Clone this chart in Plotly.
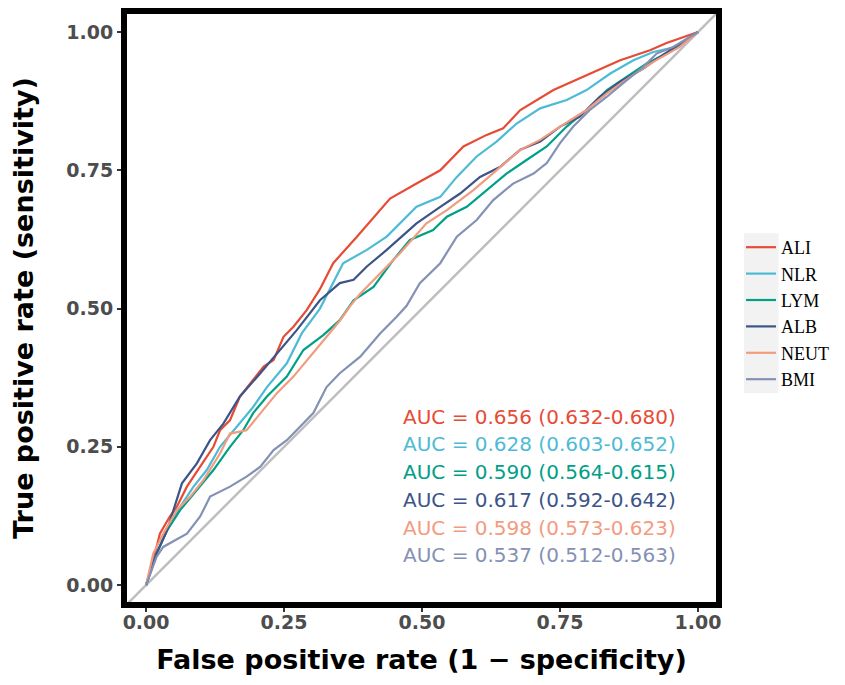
import plotly.graph_objects as go

# ROC curves (false positive rate, true positive rate)
ali_fpr = [0, 0.013, 0.025, 0.043, 0.056, 0.074, 0.098, 0.122, 0.134, 0.152, 0.170, 0.194, 0.213, 0.231, 0.249,
           0.267, 0.291, 0.315, 0.339, 0.382, 0.442, 0.490, 0.533, 0.575, 0.617, 0.647, 0.678, 0.738, 0.798,
           0.859, 0.913, 0.943, 1.0]
ali_tpr = [0, 0.045, 0.093, 0.124, 0.142, 0.178, 0.214, 0.250, 0.280, 0.298, 0.341, 0.371, 0.395, 0.407, 0.449,
           0.467, 0.497, 0.535, 0.582, 0.630, 0.699, 0.726, 0.750, 0.793, 0.814, 0.826, 0.859, 0.895, 0.922,
           0.949, 0.967, 0.980, 1.0]

nlr_fpr = [0, 0.019, 0.038, 0.062, 0.086, 0.110, 0.134, 0.164, 0.194, 0.219, 0.255, 0.282, 0.315, 0.357, 0.400,
           0.436, 0.490, 0.533, 0.563, 0.599, 0.635, 0.672, 0.714, 0.762, 0.798, 0.841, 0.883, 0.919, 0.961, 1.0]
nlr_tpr = [0, 0.057, 0.099, 0.142, 0.178, 0.208, 0.250, 0.286, 0.322, 0.358, 0.401, 0.455, 0.500, 0.582, 0.606,
           0.630, 0.684, 0.702, 0.738, 0.775, 0.802, 0.835, 0.862, 0.877, 0.895, 0.925, 0.949, 0.964, 0.973, 1.0]

lym_fpr = [0, 0.019, 0.038, 0.062, 0.092, 0.122, 0.152, 0.176, 0.194, 0.219, 0.255, 0.285, 0.321, 0.351, 0.376,
           0.412, 0.448, 0.478, 0.520, 0.545, 0.581, 0.617, 0.653, 0.690, 0.726, 0.762, 0.798, 0.835, 0.871,
           0.907, 0.943, 1.0]
lym_tpr = [0, 0.057, 0.099, 0.136, 0.172, 0.208, 0.250, 0.280, 0.311, 0.341, 0.377, 0.425, 0.452, 0.479, 0.515,
           0.539, 0.588, 0.624, 0.642, 0.666, 0.684, 0.714, 0.744, 0.769, 0.793, 0.829, 0.859, 0.895, 0.919,
           0.943, 0.961, 1.0]

alb_fpr = [0, 0.019, 0.038, 0.065, 0.092, 0.116, 0.140, 0.170, 0.207, 0.237, 0.273, 0.315, 0.351, 0.376, 0.400,
           0.436, 0.490, 0.533, 0.569, 0.605, 0.641, 0.678, 0.714, 0.750, 0.786, 0.822, 0.859, 0.901, 0.931, 1.0]
alb_tpr = [0, 0.057, 0.099, 0.184, 0.220, 0.262, 0.292, 0.341, 0.383, 0.419, 0.461, 0.515, 0.546, 0.552, 0.576,
           0.606, 0.654, 0.684, 0.708, 0.738, 0.756, 0.787, 0.802, 0.829, 0.847, 0.883, 0.910, 0.934, 0.955, 1.0]

neut_fpr = [0, 0.013, 0.031, 0.056, 0.080, 0.104, 0.134, 0.152, 0.182, 0.207, 0.237, 0.267, 0.303, 0.327, 0.351,
            0.370, 0.388, 0.424, 0.460, 0.508, 0.545, 0.593, 0.641, 0.678, 0.714, 0.750, 0.798, 0.835, 0.877,
            0.919, 0.967, 1.0]
neut_tpr = [0, 0.057, 0.093, 0.136, 0.160, 0.190, 0.238, 0.274, 0.280, 0.311, 0.347, 0.377, 0.419, 0.449, 0.478,
            0.505, 0.527, 0.564, 0.600, 0.654, 0.678, 0.714, 0.756, 0.787, 0.805, 0.829, 0.859, 0.889, 0.919,
            0.946, 0.973, 1.0]

bmi_fpr = [0, 0.019, 0.031, 0.074, 0.098, 0.116, 0.152, 0.182, 0.207, 0.231, 0.255, 0.279, 0.303, 0.327, 0.351,
           0.388, 0.424, 0.454, 0.472, 0.496, 0.533, 0.563, 0.599, 0.629, 0.665, 0.702, 0.726, 0.750, 0.774,
           0.804, 0.835, 0.871, 0.901, 0.925, 0.955, 1.0]
bmi_tpr = [0, 0.051, 0.069, 0.093, 0.124, 0.160, 0.178, 0.196, 0.214, 0.244, 0.262, 0.286, 0.311, 0.358, 0.383,
           0.413, 0.455, 0.485, 0.505, 0.546, 0.582, 0.630, 0.660, 0.696, 0.726, 0.744, 0.763, 0.799, 0.829,
           0.859, 0.883, 0.913, 0.937, 0.961, 0.973, 1.0]

names = ["ALI", "NLR", "LYM", "ALB", "NEUT", "BMI"]
colors = ["#E64B35", "#4DBBD5", "#00A087", "#3C5488", "#F39B7F", "#8491B4"]
auc_labels = ["AUC = 0.656 (0.632-0.680)", "AUC = 0.628 (0.603-0.652)", "AUC = 0.590 (0.564-0.615)",
              "AUC = 0.617 (0.592-0.642)", "AUC = 0.598 (0.573-0.623)", "AUC = 0.537 (0.512-0.563)"]
auc_y = [0.304, 0.255, 0.204, 0.154, 0.103, 0.054]
tick_vals = [0, 0.25, 0.5, 0.75, 1.0]
tick_text = ["0.00", "0.25", "0.50", "0.75", "1.00"]

curves = [(ali_fpr, ali_tpr), (nlr_fpr, nlr_tpr), (lym_fpr, lym_tpr),
          (alb_fpr, alb_tpr), (neut_fpr, neut_tpr), (bmi_fpr, bmi_tpr)]

x_range = [-0.040, 1.038]
y_range = [-0.036, 1.038]

fig = go.Figure()

# chance line, corner to corner of the panel
fig.add_shape(type="line", xref="x", yref="y",
              x0=min(x_range[0], y_range[0]), y0=min(x_range[0], y_range[0]),
              x1=max(x_range[1], y_range[1]), y1=max(x_range[1], y_range[1]),
              line=dict(color="#BEBEBE", width=2.5), layer="below")

for (fpr, tpr), name, col in zip(curves, names, colors):
    fig.add_trace(go.Scatter(x=fpr, y=tpr, mode="lines", name=name,
                             line=dict(color=col, width=2.2)))

for lab, yy, col in zip(auc_labels, auc_y, colors):
    fig.add_annotation(x=0.462, y=yy, xref="x", yref="y", text=lab, showarrow=False,
                       xanchor="left", yanchor="middle",
                       font=dict(family="DejaVu Sans", size=20, color=col))

# thick panel border
fig.add_shape(type="rect", xref="paper", yref="paper", x0=0, y0=0, x1=1, y1=1,
              line=dict(color="black", width=6), layer="above")

# grey background behind the legend keys
fig.add_shape(type="rect", xref="paper", yref="paper", x0=1.042, x1=1.100, y0=0.357, y1=0.626,
              fillcolor="#F2F2F2", line=dict(width=0), layer="below")

tick_style = dict(
    tickvals=tick_vals, ticktext=tick_text,
    showgrid=False, zeroline=False, showline=False,
    ticks="outside", ticklen=6, tickwidth=1.5, tickcolor="#333333",
    tickfont=dict(family="DejaVu Sans", size=19, color="#4D4D4D", weight="bold"),
)

fig.update_layout(
    width=837, height=677,
    margin=dict(l=116, r=126, t=3, b=80),
    paper_bgcolor="white", plot_bgcolor="white",
    xaxis=dict(**tick_style, range=x_range, ticklabelstandoff=-6,
               title=dict(text="False positive rate (1 \u2212 specificity)", standoff=18,
                          font=dict(family="DejaVu Sans", size=27, color="black", weight="bold"))),
    yaxis=dict(**tick_style, range=y_range,
               title=dict(text="True positive rate (sensitivity)", standoff=28,
                          font=dict(family="DejaVu Sans", size=27, color="black", weight="bold"))),
    legend=dict(x=1.037, y=0.633, xanchor="left", yanchor="top",
                bgcolor="rgba(0,0,0,0)", tracegroupgap=0,
                font=dict(family="Liberation Serif", size=18, color="black")),
    showlegend=True,
)

fig.write_html("out.html")
